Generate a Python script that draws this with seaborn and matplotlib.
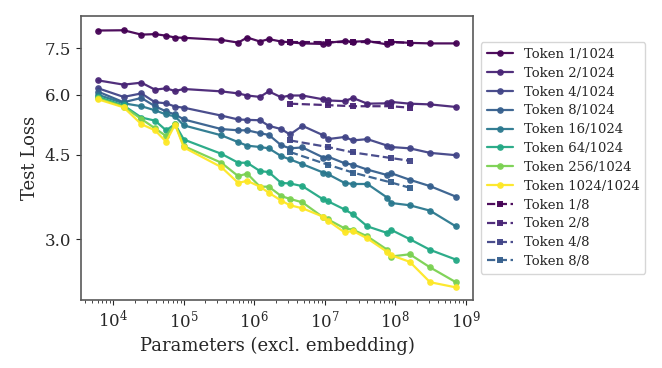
import numpy as np
import pandas as pd
import matplotlib
matplotlib.use("Agg")
import matplotlib.pyplot as plt
import seaborn as sns
from matplotlib.ticker import FixedLocator, NullLocator, FormatStrFormatter

sns.set_style("ticks")
plt.rcParams['font.family'] = ['DejaVu Serif']
plt.rcParams['mathtext.fontset'] = 'dejavuserif'

# model sizes (non-embedding parameters)
params = [6.1e3, 1.4e4, 2.5e4, 3.9e4, 5.6e4, 7.5e4, 1.0e5, 3.4e5, 5.9e5, 7.9e5,
          1.2e6, 1.6e6, 2.4e6, 3.2e6, 4.8e6, 9.5e6, 1.1e7, 1.9e7, 2.5e7, 4.0e7,
          7.7e7, 8.6e7, 1.6e8, 3.1e8, 7.2e8]
params_8 = [3.2e6, 1.1e7, 2.5e7, 8.6e7, 1.6e8]

labels_1024 = ['Token 1/1024', 'Token 2/1024', 'Token 4/1024', 'Token 8/1024',
               'Token 16/1024', 'Token 64/1024', 'Token 256/1024', 'Token 1024/1024']
labels_8 = ['Token 1/8', 'Token 2/8', 'Token 4/8', 'Token 8/8']

tok_1 = [8.17, 8.18, 8.01, 8.03, 7.97, 7.90, 7.89, 7.81, 7.71, 7.90, 7.75, 7.84, 7.75,
         7.72, 7.68, 7.66, 7.70, 7.77, 7.74, 7.77, 7.64, 7.74, 7.70, 7.68, 7.68]
tok_2 = [6.43, 6.30, 6.36, 6.15, 6.19, 6.11, 6.17, 6.10, 6.04, 5.98, 5.94, 6.10, 5.93,
         5.98, 5.98, 5.87, 5.84, 5.82, 5.91, 5.75, 5.76, 5.80, 5.75, 5.73, 5.66]
tok_4 = [6.19, 5.94, 6.04, 5.79, 5.76, 5.67, 5.64, 5.43, 5.33, 5.32, 5.31, 5.17, 5.09,
         4.96, 5.17, 4.94, 4.85, 4.90, 4.82, 4.85, 4.70, 4.67, 4.64, 4.54, 4.49]
tok_8 = [6.09, 5.79, 5.91, 5.68, 5.54, 5.46, 5.33, 5.09, 5.06, 5.06, 4.99, 4.95, 4.71,
         4.64, 4.66, 4.44, 4.46, 4.32, 4.29, 4.19, 4.08, 4.12, 3.99, 3.87, 3.68]
tok_16 = [6.00, 5.76, 5.68, 5.57, 5.46, 5.41, 5.18, 4.94, 4.78, 4.70, 4.67, 4.64, 4.47,
          4.40, 4.30, 4.13, 4.10, 3.93, 3.91, 3.91, 3.66, 3.57, 3.53, 3.44, 3.19]
tok_64 = [5.94, 5.70, 5.38, 5.30, 5.06, 5.21, 4.84, 4.52, 4.33, 4.33, 4.16, 4.14, 3.93,
          3.92, 3.87, 3.63, 3.60, 3.46, 3.38, 3.19, 3.09, 3.14, 3.00, 2.85, 2.72]
tok_256 = [5.90, 5.67, 5.34, 5.11, 4.92, 5.22, 4.69, 4.33, 4.06, 4.11, 3.86, 3.86, 3.69,
           3.64, 3.58, 3.33, 3.30, 3.16, 3.14, 3.04, 2.85, 2.76, 2.79, 2.62, 2.44]
tok_1024 = [5.87, 5.65, 5.21, 5.06, 4.79, 5.20, 4.66, 4.24, 3.93, 3.97, 3.86, 3.75, 3.61,
            3.53, 3.48, 3.34, 3.28, 3.10, 3.12, 3.01, 2.82, 2.78, 2.69, 2.44, 2.38]

tok8_1 = [7.73, 7.73, 7.73, 7.73, 7.70]
tok8_2 = [5.75, 5.71, 5.68, 5.68, 5.64]
tok8_4 = [4.82, 4.67, 4.55, 4.43, 4.37]
tok8_8 = [4.56, 4.29, 4.13, 3.94, 3.84]

series_1024 = [tok_1, tok_2, tok_4, tok_8, tok_16, tok_64, tok_256, tok_1024]
series_8 = [tok8_1, tok8_2, tok8_4, tok8_8]

# colour by log2(token count) / 10
cmap = plt.get_cmap('viridis')
pos_1024 = [0.0, 0.1, 0.2, 0.3, 0.4, 0.6, 0.8, 1.0]
pos_8 = [0.0, 0.1, 0.2, 0.3]

fig = plt.figure(figsize=(6.62, 3.68), dpi=100)
ax = fig.add_axes([81 / 662, 1 - 300 / 368, (473 - 81) / 662, (300 - 16) / 368])

for lab, vals, p in zip(labels_1024, series_1024, pos_1024):
    df = pd.DataFrame({'params': params, 'loss': vals})
    sns.lineplot(data=df, x='params', y='loss', ax=ax, color=cmap(p), label=lab,
                 marker='o', markersize=4.8, markeredgewidth=0, linewidth=1.6,
                 alpha=0.95, errorbar=None)

for lab, vals, p in zip(labels_8, series_8, pos_8):
    df = pd.DataFrame({'params': params_8, 'loss': vals})
    sns.lineplot(data=df, x='params', y='loss', ax=ax, color=cmap(p), label=lab,
                 marker='s', markersize=4.8, markeredgewidth=0, linewidth=1.6,
                 linestyle='--', alpha=0.95, errorbar=None)

ax.set_xscale('log')
ax.set_yscale('log')
ax.set_xlim(3.48e3, 1.26e9)
ax.set_ylim(2.24, 8.76)
ax.yaxis.set_major_locator(FixedLocator([3.0, 4.5, 6.0, 7.5]))
ax.yaxis.set_minor_locator(NullLocator())
ax.yaxis.set_major_formatter(FormatStrFormatter('%.1f'))

ax.tick_params(axis='both', labelsize=12)
ax.set_xlabel('Parameters (excl. embedding)', fontsize=13)
ax.set_ylabel('Test Loss', fontsize=13)

for s in ax.spines.values():
    s.set_visible(True)
    s.set_color('0.35')
    s.set_linewidth(1.2)

ax.legend(loc='center left', bbox_to_anchor=(1.003, 0.5), fontsize=9.5,
          handlelength=2.0, borderpad=0.45, labelspacing=0.44)

plt.savefig('out.png', dpi=100)
